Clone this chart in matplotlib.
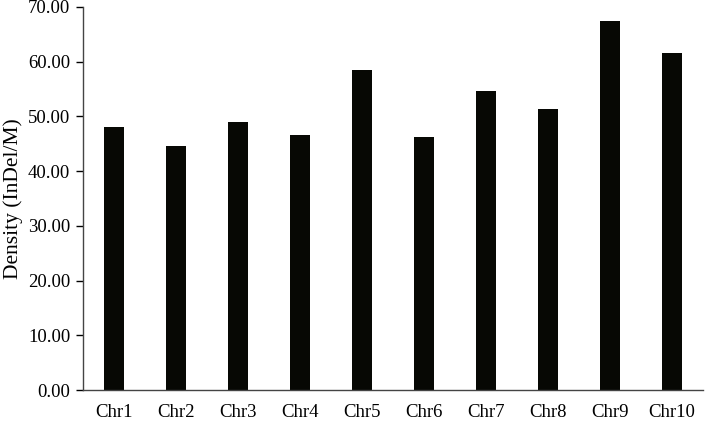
import matplotlib
matplotlib.use("Agg")
import matplotlib.pyplot as plt
from matplotlib.ticker import FormatStrFormatter

categories = ["Chr1", "Chr2", "Chr3", "Chr4", "Chr5", "Chr6", "Chr7", "Chr8", "Chr9", "Chr10"]
density = [48.1, 44.5, 48.9, 46.6, 58.4, 46.2, 54.7, 51.4, 67.5, 61.6]
y_ticks = [0, 10, 20, 30, 40, 50, 60, 70]

plt.rcParams['font.family'] = ['Liberation Serif', 'DejaVu Serif']

fig = plt.figure(figsize=(7.08, 4.21), dpi=100)
ax = fig.add_axes([0.117, 0.0736, 0.876, 0.910])
x = range(len(categories))
ax.bar(x, density, width=0.32, color="#070804")
ax.set_xlim(-0.5, len(categories) - 0.5)
ax.set_ylim(0, 70)
ax.set_yticks(y_ticks)
ax.yaxis.set_major_formatter(FormatStrFormatter("%.2f"))
ax.set_xticks(list(x))
ax.set_xticklabels(categories)
ax.tick_params(axis='x', length=0, pad=10, labelsize=13.5)
ax.tick_params(axis='y', length=5, width=1, direction='out', labelsize=13.5, pad=4)
ax.spines['top'].set_visible(False)
ax.spines['right'].set_visible(False)
for s in ('left', 'bottom'):
    ax.spines[s].set_color('#444444')
    ax.spines[s].set_linewidth(1)
ax.set_ylabel("Density (InDel/M)", fontsize=15.5, labelpad=4)
fig.savefig("out.png", dpi=100)
